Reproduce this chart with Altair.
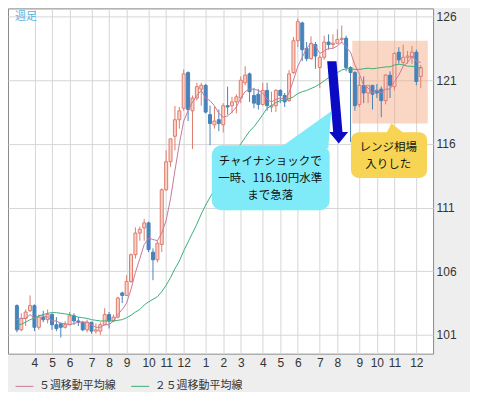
import altair as alt
import pandas as pd

# ---- weekly USD/JPY candles (first week: 2014-03-10) ----
week_start = "2014-03-10"
opens = [103.3, 101.4, 102.3, 102.9, 103.3, 101.6, 102.4, 102.2, 102.6, 101.8,
         101.9, 101.6, 101.8, 102.5, 102.1, 102.0, 101.4, 102.0, 101.3, 101.3,
         101.8, 102.6, 102.1, 102.4, 104.3, 104.1, 105.2, 107.3, 109.0, 109.4,
         109.8, 107.5, 106.9, 108.1, 112.4, 114.6, 116.6, 117.9, 118.8, 121.6,
         118.6, 119.6, 120.3, 120.6, 118.3, 117.5, 117.9, 117.5, 119.0, 119.0,
         119.3, 119.6, 120.8, 121.5, 119.8, 119.9, 119.1, 120.2, 118.9, 119.0,
         120.2, 119.8, 119.4, 121.6, 124.1, 125.5, 123.5, 122.7, 123.8, 122.0,
         122.8, 124.0, 123.8, 123.9, 124.2, 124.3, 122.0, 121.6, 119.1, 120.6,
         120.0, 120.6, 120.2, 120.3, 119.4, 121.4, 120.5, 123.2, 122.4, 122.8,
         122.8, 123.2, 121.3]
highs = [103.4, 102.7, 103.0, 104.1, 103.4, 102.6, 102.9, 103.0, 102.7, 102.4,
         102.0, 102.1, 102.8, 102.7, 102.4, 102.1, 102.2, 102.0, 101.9, 102.0,
         103.1, 102.8, 102.6, 104.0, 104.4, 105.7, 107.4, 109.45, 109.5, 110.1,
         109.9, 107.8, 108.4, 112.5, 115.5, 116.1, 118.98, 118.9, 121.85, 121.7,
         119.8, 120.8, 120.8, 120.7, 119.0, 118.9, 118.7, 119.2, 120.5, 119.7,
         119.9, 121.3, 122.1, 121.6, 120.4, 120.3, 120.8, 120.8, 120.1, 120.3,
         120.3, 120.0, 121.8, 124.4, 125.86, 125.6, 124.0, 124.45, 124.0, 123.0,
         124.5, 124.6, 124.6, 125.0, 125.3, 124.5, 122.1, 121.7, 121.3, 121.3,
         120.6, 120.6, 120.7, 120.5, 121.5, 121.7, 123.2, 123.6, 123.8, 123.3,
         123.7, 123.4, 122.2]
lows = [101.2, 101.3, 101.7, 102.8, 101.3, 101.4, 102.0, 101.9, 101.4, 101.3,
        100.8, 101.5, 101.8, 101.8, 101.7, 101.3, 101.2, 101.1, 101.1, 101.0,
        101.8, 101.5, 102.0, 102.3, 103.5, 104.1, 105.1, 107.0, 108.4, 108.4,
        107.5, 105.3, 106.7, 107.5, 112.3, 114.2, 115.5, 117.2, 118.6, 117.8,
        115.6, 119.4, 119.0, 118.4, 115.9, 117.2, 117.0, 116.9, 118.3, 118.4,
        118.4, 119.2, 120.6, 119.3, 118.8, 118.7, 119.0, 118.6, 118.5, 118.5,
        119.2, 118.9, 119.3, 121.5, 123.6, 122.5, 122.5, 122.6, 121.9, 120.4,
        122.6, 123.4, 123.5, 123.9, 123.9, 121.7, 116.15, 118.6, 118.9, 119.2,
        119.2, 118.7, 119.6, 118.1, 119.1, 119.6, 120.2, 122.3, 122.2, 122.3,
        122.3, 120.6, 120.4]
closes = [101.4, 102.3, 102.8, 103.3, 101.6, 102.4, 102.2, 102.6, 101.8, 101.5,
          101.6, 101.8, 102.5, 102.1, 102.0, 101.4, 102.0, 101.3, 101.4, 101.8,
          102.6, 102.1, 102.4, 103.9, 104.1, 105.2, 107.3, 109.0, 109.3, 109.8,
          107.7, 106.9, 108.2, 112.4, 114.6, 116.4, 117.9, 118.6, 121.5, 118.7,
          119.6, 120.5, 120.6, 118.5, 117.6, 117.8, 117.6, 119.0, 118.9, 119.3,
          119.7, 121.0, 121.4, 120.1, 119.2, 119.1, 120.2, 119.0, 119.0, 120.2,
          119.8, 119.3, 121.5, 124.1, 125.6, 123.4, 122.7, 123.9, 122.9, 122.8,
          124.0, 123.8, 123.9, 124.2, 124.3, 122.0, 121.6, 119.0, 120.6, 120.0,
          120.6, 119.9, 120.0, 119.4, 121.4, 120.6, 123.1, 122.6, 122.8, 122.9,
          123.2, 120.9, 122.0]
ma5 = [102.2, 102.3, 102.3, 102.6, 102.3, 102.5, 102.5, 102.4, 102.1, 102.1,
       101.9, 101.9, 101.8, 101.9, 102.0, 102.0, 102.0, 101.8, 101.6, 101.6,
       101.8, 101.8, 102.1, 102.6, 103.0, 103.5, 104.6, 105.9, 107.0, 108.1,
       108.6, 108.5, 108.4, 109.0, 110.0, 111.7, 113.9, 116.0, 117.8, 118.6,
       119.3, 119.8, 120.2, 119.6, 119.4, 119.0, 118.4, 118.1, 118.2, 118.5,
       118.9, 119.6, 120.1, 120.3, 120.3, 120.2, 120.0, 119.5, 119.3, 119.5,
       119.6, 119.5, 120.0, 121.0, 122.1, 122.8, 123.5, 123.9, 123.7, 123.1,
       123.3, 123.5, 123.5, 123.7, 124.0, 123.6, 123.2, 122.2, 121.5, 120.6,
       120.4, 120.0, 120.2, 120.0, 120.3, 120.3, 120.9, 121.4, 122.1, 122.4,
       122.9, 122.5, 122.4]
ma25 = [101.7, 101.85, 102.0, 102.2, 102.35, 102.5, 102.6, 102.7, 102.75, 102.75,
        102.7, 102.65, 102.6, 102.5, 102.4, 102.35, 102.3, 102.2, 102.15, 102.1,
        102.1, 102.1, 102.1, 102.15, 102.2, 102.35, 102.55, 102.8, 103.0, 103.35,
        103.6, 103.8, 104.0, 104.4, 104.9, 105.5, 106.2, 106.8, 107.6, 108.3,
        109.0, 109.7, 110.5, 111.2, 111.8, 112.4, 113.0, 113.7, 114.3, 114.9,
        115.5, 116.0, 116.5, 117.0, 117.35, 117.8, 118.3, 118.8, 119.0, 119.25,
        119.4, 119.45, 119.55, 119.7, 119.95, 120.1, 120.2, 120.35, 120.5, 120.7,
        120.95, 121.2, 121.4, 121.6, 121.8, 121.9, 121.9, 121.85, 121.85, 121.9,
        121.95, 121.9, 121.95, 122.0, 122.05, 122.05, 122.2, 122.25, 122.2, 122.1,
        122.1, 122.0, 121.95]
series_names = ["５週移動平均線", "２５週移動平均線"]
y_ticks = [101, 106, 111, 116, 121, 126]

# annotations (in data units: week index / price)
range_box = {"x": [76.4], "x2": [93.6], "y": [117.6], "y2": [124.1]}
cyan_box = {"x": [44.4], "x2": [71.25], "y": [110.8], "y2": [115.9]}
yellow_box = {"x": [76.1], "x2": [93.45], "y": [113.32], "y2": [116.92]}
cyan_lines = ["チャイナショックで", "一時、116.10円水準", "まで急落"]
cyan_text_x = [57.7, 57.7, 57.7]
cyan_text_y = [114.57, 113.24, 111.9]
yellow_lines = ["レンジ相場", "入りした"]
yellow_text_x = [84.6, 84.6]
yellow_text_y = [115.67, 114.34]

FONT = "Noto Sans CJK JP"

n = len(closes)
dates = pd.date_range(week_start, periods=n, freq="7D")
month_idx = [i for i in range(1, n) if dates[i].month != dates[i - 1].month]
label_expr = ""
for i in month_idx:
    label_expr += f"datum.value == {i} ? '{dates[i].month}' : "
label_expr += "''"

df = pd.DataFrame({"i": range(n), "open": opens, "high": highs,
                   "low": lows, "close": closes})
df["up"] = df["close"] >= df["open"]
ma_df = pd.concat([
    pd.DataFrame({"i": range(n), "v": ma5, "series": series_names[0]}),
    pd.DataFrame({"i": range(n), "v": ma25, "series": series_names[1]}),
])

xs = alt.Scale(domain=[-0.888, 93.67], nice=False, zero=False)
ys = alt.Scale(domain=[99.53, 126.64], nice=False, zero=False)
xaxis = alt.Axis(values=month_idx, labelExpr=label_expr, grid=True, domain=False,
                 ticks=False, labelPadding=4, labelFlush=False, labelOverlap=False,
                 title=None)
yaxis = alt.Axis(values=y_ticks, orient="right", grid=True, domain=False,
                 ticks=False, labelPadding=3, title=None)


def X(f):
    return alt.X(f, type="quantitative", scale=xs, axis=xaxis)


def Y(f):
    return alt.Y(f, type="quantitative", scale=ys, axis=yaxis)


UP_STROKE = "#e07b6b"
UP_FILL = "#f9d2ca"
DOWN = "#4683ba"

base = alt.Chart(df)

box = alt.Chart(pd.DataFrame(range_box)).mark_rect(
    color="#f5a77c", opacity=0.45).encode(
    x=X("x"), x2="x2", y=Y("y"), y2="y2")

wick_up = base.transform_filter("datum.up").mark_rule(
    color=UP_STROKE, strokeWidth=1).encode(x=X("i"), y=Y("low"), y2="high")
wick_dn = base.transform_filter("!datum.up").mark_rule(
    color=DOWN, strokeWidth=1).encode(x=X("i"), y=Y("low"), y2="high")
body_up = base.transform_filter("datum.up").mark_bar(
    size=3, fill=UP_FILL, stroke=UP_STROKE, strokeWidth=1).encode(
    x=X("i"), y=Y("open"), y2="close")
body_dn = base.transform_filter("!datum.up").mark_bar(
    size=3, fill=DOWN, stroke=DOWN, strokeWidth=1).encode(
    x=X("i"), y=Y("open"), y2="close")

lines = alt.Chart(ma_df).mark_line(strokeWidth=1).encode(
    x=X("i"), y=Y("v"),
    color=alt.Color("series:N",
                    scale=alt.Scale(domain=series_names, range=["#c9799b", "#3dae78"]),
                    legend=alt.Legend(orient="none", legendX=7, legendY=369,
                                      direction="horizontal", title=None,
                                      symbolType="stroke", symbolSize=324,
                                      symbolStrokeWidth=1, labelFontSize=11,
                                      labelFont=FONT, labelColor="#333333",
                                      columnPadding=13, labelOffset=5, padding=0)),
    detail="series:N")

arrow_path = ("M-0.255,-1 L-0.029,-1 L0.117,0.718 L0.255,0.718 L0.027,1 "
              "L-0.207,0.718 L-0.109,0.718 Z")
arrow = alt.Chart(pd.DataFrame({"x": [73.07], "y": [119.26]})).mark_point(
    shape=arrow_path, size=6773, filled=True, opacity=1, color="#0b0bc6",
    strokeWidth=0).encode(x=X("x"), y=Y("y"))

cyan_rect = alt.Chart(pd.DataFrame(cyan_box)).mark_rect(
    color="#80ebf8", cornerRadius=10).encode(x=X("x"), x2="x2", y=Y("y"), y2="y2")
cyan_ptr = alt.Chart(pd.DataFrame({"x": [65.7], "y": [117.12]})).mark_point(
    shape="M-1,0.712 L0.885,0.712 L1,-0.712 Z", size=2704, filled=True,
    opacity=1, color="#80ebf8", strokeWidth=0).encode(x=X("x"), y=Y("y"))
cyan_txt = alt.Chart(pd.DataFrame({"t": cyan_lines, "x": cyan_text_x,
                                   "y": cyan_text_y})).mark_text(
    font=FONT, fontSize=11.5, color="#111111", baseline="middle",
    align="center").encode(x=X("x"), y=Y("y"), text="t:N")

yel_rect = alt.Chart(pd.DataFrame(yellow_box)).mark_rect(
    color="#f8d454", cornerRadius=8).encode(x=X("x"), x2="x2", y=Y("y"), y2="y2")
yel_ptr = alt.Chart(pd.DataFrame({"x": [86.13], "y": [117.24]})).mark_point(
    shape="M-1,0.588 L1,0.588 L-0.412,-0.588 Z", size=289, filled=True,
    opacity=1, color="#f8d454", strokeWidth=0).encode(x=X("x"), y=Y("y"))
yel_txt = alt.Chart(pd.DataFrame({"t": yellow_lines, "x": yellow_text_x,
                                  "y": yellow_text_y})).mark_text(
    font=FONT, fontSize=11.5, color="#111111", baseline="middle",
    align="center").encode(x=X("x"), y=Y("y"), text="t:N")

title_txt = alt.Chart(pd.DataFrame({"t": ["週足"]})).mark_text(
    font=FONT, fontSize=11, color="#4fb6e6", align="left", baseline="top").encode(
    x=alt.value(7), y=alt.value(3), text="t:N")

chart = alt.layer(
    box, wick_up, wick_dn, body_up, body_dn, lines, arrow,
    cyan_rect, cyan_ptr, cyan_txt, yel_rect, yel_ptr, yel_txt, title_txt
).properties(
    width=426, height=346,
    background="#eeeeee",
    padding={"left": 0, "top": 0, "right": 13, "bottom": 0},
).configure_view(
    fill="white", stroke="#8a8a8a", strokeWidth=1
).configure_axis(
    gridColor="#d6d6d6", gridWidth=1, labelFont="Liberation Sans",
    labelFontSize=12, labelColor="#333333"
)

chart.save("out.html", embed_options={"renderer": "svg", "actions": False})
